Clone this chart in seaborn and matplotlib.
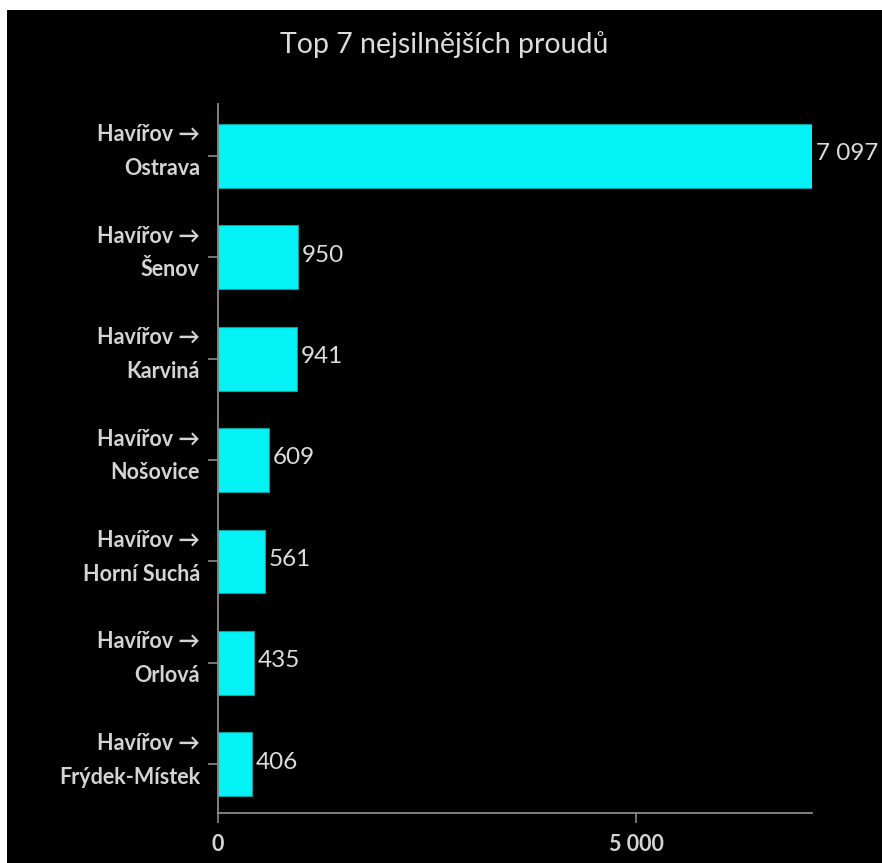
import matplotlib
matplotlib.use("Agg")
import matplotlib.pyplot as plt
import matplotlib.transforms as mtransforms
from matplotlib.patches import Rectangle
import seaborn as sns
import pandas as pd

sources = ["Havířov"] * 7
targets = ["Ostrava", "Šenov", "Karviná", "Nošovice", "Horní Suchá", "Orlová", "Frýdek-Místek"]
flows = [7097, 950, 941, 609, 561, 435, 406]
x_ticks = [0, 5000]

title = "Top 7 nejsilnějších proudů"
bar_color = "#02F2F5"
text_color = "#dcdcdc"
axis_color = "#8a8a8a"

sns.set_theme(style="dark")
plt.rcParams["font.family"] = ["Lato", "DejaVu Sans"]

labels = [f"{s} →\n{t}" for s, t in zip(sources, targets)]
df = pd.DataFrame({"route": labels, "flow": flows})

fig = plt.figure(figsize=(8.82, 8.63), dpi=100)
fig.patch.set_facecolor("white")
fig.patches.append(Rectangle((7 / 882, 0), 1 - 7 / 882, 1 - 10 / 863,
                             transform=fig.transFigure, facecolor="black",
                             edgecolor="none", zorder=-10))

ax = fig.add_axes([218 / 882, 1 - 813 / 863, (812 - 218) / 882, (813 - 104) / 863])
ax.set_facecolor("black")

sns.barplot(data=df, y="route", x="flow", orient="h", color=bar_color,
            width=0.63, edgecolor="#0a9ea0", linewidth=0.8, saturation=1, ax=ax)

ax.set_xlim(0, max(flows))
ax.set_ylim(6.48, -0.51)
ax.set_xticks(x_ticks)
ax.set_xticklabels([f"{v:,}".replace(",", " ") for v in x_ticks])
ax.set_xlabel("")
ax.set_ylabel("")
ax.grid(False)

for sp in ["top", "right"]:
    ax.spines[sp].set_visible(False)
for sp in ["left", "bottom"]:
    ax.spines[sp].set_visible(True)
    ax.spines[sp].set_color(axis_color)
    ax.spines[sp].set_linewidth(1.3)

ax.tick_params(axis="both", colors=axis_color, length=7, width=1.2,
               labelcolor=text_color, direction="out", left=True, bottom=True)
ax.tick_params(axis="x", pad=8, labelsize=15.5)
ax.tick_params(axis="y", pad=6, labelsize=15.5)
shift = mtransforms.ScaledTranslation(0, 12.5 / 100, fig.dpi_scale_trans)
for lbl in ax.get_yticklabels():
    lbl.set_linespacing(1.75)
    lbl.set_fontweight("bold")
    lbl.set_color("#d4d4d4")
    lbl.set_horizontalalignment("right")
    lbl.set_transform(lbl.get_transform() + shift)
for lbl in ax.get_xticklabels():
    lbl.set_fontweight("bold")
    lbl.set_color("#d4d4d4")

for i, v in enumerate(flows):
    ax.text(v + 45, i - 0.02, f"{v:,}".replace(",", " "), color=text_color,
            fontsize=17.5, va="center", ha="left", clip_on=False)

fig.text(444 / 882, 1 - 45 / 863, title, color=text_color, fontsize=20.5,
         ha="center", va="center")

fig.savefig("out.png", dpi=100, facecolor=fig.get_facecolor())
